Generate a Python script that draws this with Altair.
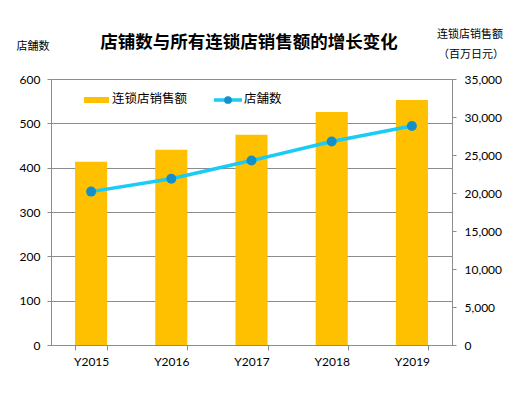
import pandas as pd
import altair as alt

# data
years = ["Y2015", "Y2016", "Y2017", "Y2018", "Y2019"]
stores = [346, 375, 416, 459, 494]
sales = [24100, 25700, 27650, 30650, 32250]

df = pd.DataFrame({"year": years, "stores": stores, "sales": sales})

CJK = "Noto Sans CJK SC"
NUM = "Lato"
GRID = "#8c8c8c"
BAR = "#FFC000"
LINE = "#19CBF5"
DOT = "#1190CB"

x_enc = alt.X(
    "year:N",
    title=None,
    sort=years,
    scale=alt.Scale(paddingInner=0.6, paddingOuter=0.3),
    axis=alt.Axis(
        labelAngle=0, tickBand="extent", domainColor=GRID, tickColor=GRID,
        tickSize=5, labelPadding=6, labelFont=NUM, labelFontSize=12,
        labelColor="#000000", grid=False,
    ),
)

# bars on the right axis
bars = alt.Chart(df).mark_bar(color=BAR).encode(
    x=x_enc,
    y=alt.Y(
        "sales:Q",
        title=None,
        scale=alt.Scale(domain=[0, 35000], nice=False),
        axis=alt.Axis(
            orient="right", values=list(range(0, 35001, 5000)), format=",.0f",
            grid=False, domainColor=GRID, tickColor=GRID, tickSize=4,
            labelPadding=8, labelFont=NUM, labelFontSize=12, labelColor="#000000",
        ),
    ),
)

# store count on the left axis
line = alt.Chart(df).mark_line(color=LINE, strokeWidth=3.5).encode(
    x=alt.X("year:N", sort=years),
    y=alt.Y(
        "stores:Q",
        title=None,
        scale=alt.Scale(domain=[0, 600], nice=False),
        axis=alt.Axis(
            orient="left", values=list(range(0, 601, 100)), grid=True,
            gridColor=GRID, domainColor=GRID, tickColor=GRID, tickSize=4,
            labelPadding=7, labelFont=NUM, labelFontSize=12, labelColor="#000000",
        ),
    ),
)
dots = alt.Chart(df).mark_point(filled=True, size=100, color=DOT, opacity=1).encode(
    x=alt.X("year:N", sort=years),
    y=alt.Y("stores:Q", scale=alt.Scale(domain=[0, 600], nice=False), axis=None),
)

one = pd.DataFrame({"k": [0]})


def label(text, x, y, size=11, weight="normal", align="center"):
    return alt.Chart(one).mark_text(
        text=text, font=CJK, fontSize=size, fontWeight=weight, align=align,
        baseline="middle", color="#000000",
    ).encode(x=alt.value(x), y=alt.value(y))


title = label("店铺数与所有连锁店销售额的增长变化", 198, -36, size=17.5, weight="bold")
left_t = label("店舗数", -18, -32, size=11)
right_t1 = label("连锁店销售额", 419, -44, size=11)
right_t2 = label("（百万日元）", 420, -24, size=11)

# legend drawn by hand, like the Excel one
leg_bar = alt.Chart(one).mark_rect(color=BAR).encode(
    x=alt.value(33), x2=alt.value(58), y=alt.value(18), y2=alt.value(24)
)
leg_bar_t = label("连锁店销售额", 61, 20, size=12.5, align="left")
leg_line = alt.Chart(one).mark_rule(color=LINE, strokeWidth=3.5).encode(
    x=alt.value(163), x2=alt.value(191), y=alt.value(21)
)
leg_dot = alt.Chart(one).mark_point(filled=True, size=60, color=DOT, opacity=1).encode(
    x=alt.value(177), y=alt.value(21)
)
leg_line_t = label("店舗数", 193, 20, size=12.5, align="left")

chart = alt.layer(
    bars, line, dots,
    title, left_t, right_t1, right_t2,
    leg_bar, leg_bar_t, leg_line, leg_dot, leg_line_t,
).resolve_scale(y="independent").properties(
    width=401,
    height=266,
    autosize="none",
    padding={"left": 43, "top": 71, "right": 52, "bottom": 50},
).configure_view(stroke=None)

chart.save("out.html", embed_options={"renderer": "svg", "actions": False})
